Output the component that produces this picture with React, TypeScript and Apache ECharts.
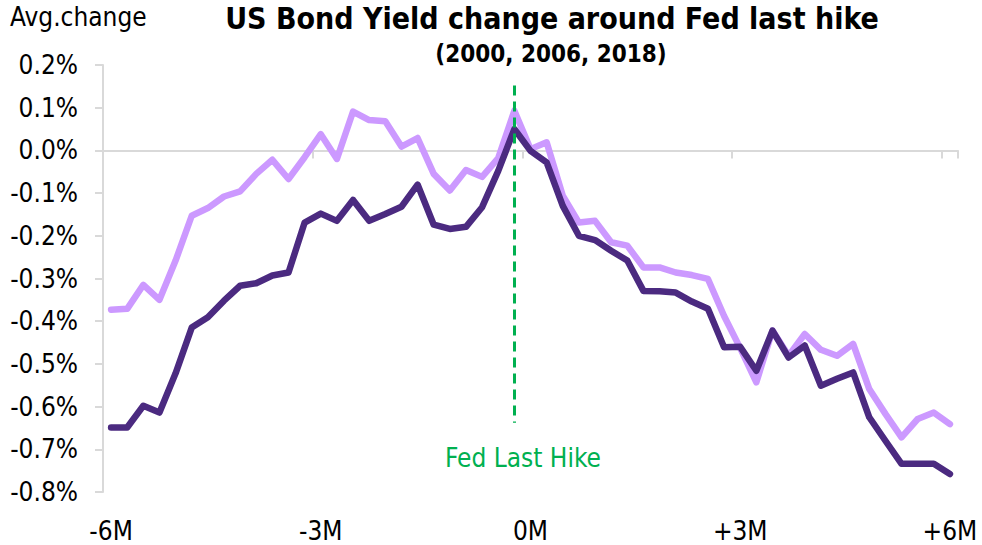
import React, { useEffect, useRef } from "react";
import * as echarts from "echarts";

// Weekly observations around the Fed's last hike (53 weeks, -6M .. +6M)
const monthLabels = ["-6M", "-3M", "0M", "+3M", "+6M"];
const weeksPerLabel = 13;
const hikeIndex = 25;

// Average change in yield, % points
const lightSeries = [
  -0.373, -0.371, -0.315, -0.35, -0.258, -0.153, -0.135, -0.108, -0.096, -0.055,
  -0.022, -0.067, -0.016, 0.038, -0.02, 0.091, 0.071, 0.068, 0.009, 0.029,
  -0.055, -0.094, -0.046, -0.062, -0.018, 0.093, 0.003, 0.019, -0.106, -0.169,
  -0.165, -0.215, -0.223, -0.274, -0.274, -0.286, -0.292, -0.301, -0.388, -0.463,
  -0.543, -0.422, -0.481, -0.43, -0.467, -0.481, -0.453, -0.559, -0.617, -0.672,
  -0.629, -0.614, -0.641,
];
const darkSeries = [
  -0.649, -0.649, -0.598, -0.614, -0.522, -0.415, -0.391, -0.352, -0.317, -0.311,
  -0.293, -0.286, -0.169, -0.148, -0.165, -0.116, -0.165, -0.149, -0.132, -0.08,
  -0.174, -0.184, -0.179, -0.133, -0.048, 0.05, -0.001, -0.028, -0.13, -0.2,
  -0.21, -0.235, -0.258, -0.329, -0.33, -0.333, -0.354, -0.371, -0.461, -0.46,
  -0.516, -0.422, -0.485, -0.457, -0.551, -0.535, -0.52, -0.625, -0.68, -0.734,
  -0.734, -0.734, -0.758,
];
const yMin = -0.8;
const yMax = 0.2;
const yStep = 0.1;
const hikeLineTop = 0.152;
const hikeLineBottom = -0.638;

const categories = lightSeries.map((_, i) =>
  i % weeksPerLabel === 0 ? monthLabels[i / weeksPerLabel] : ""
);

const FONT = "'DejaVu Sans Condensed', 'DejaVu Sans', sans-serif";
const AXIS_GREY = "#d9d9d9";

export default function App() {
  const ref = useRef<HTMLDivElement>(null);
  useEffect(() => {
    if (!ref.current) return;
    const chart = echarts.init(ref.current, undefined, { renderer: "svg" });
    chart.setOption({
      animation: false,
      backgroundColor: "#ffffff",
      textStyle: { fontFamily: FONT },
      grid: { left: 103, right: 24, top: 65, bottom: 53, containLabel: false },
      xAxis: [
        {
          type: "category",
          data: categories,
          position: "bottom",
          axisLine: { show: false, onZero: false },
          axisTick: { show: false },
          splitLine: { show: false },
          axisLabel: {
            interval: weeksPerLabel - 1,
            fontSize: 26,
            color: "#000",
            fontFamily: FONT,
            margin: 26,
          },
        },
        {
          type: "category",
          data: categories,
          position: "bottom",
          axisLine: { show: true, onZero: true, lineStyle: { color: AXIS_GREY, width: 2 } },
          axisTick: {
            show: true,
            interval: weeksPerLabel - 1,
            length: 8,
            lineStyle: { color: AXIS_GREY, width: 2 },
          },
          axisLabel: { show: false },
          splitLine: { show: false },
        },
      ],
      yAxis: {
        type: "value",
        min: yMin,
        max: yMax,
        interval: yStep,
        axisLine: { show: true, onZero: false, lineStyle: { color: AXIS_GREY, width: 2 } },
        axisTick: { show: true, length: 8, lineStyle: { color: AXIS_GREY, width: 2 } },
        splitLine: { show: false },
        axisLabel: {
          fontSize: 26,
          color: "#000",
          fontFamily: FONT,
          margin: 25,
          formatter: (v: number) => v.toFixed(1) + "%",
        },
      },
      series: [
        {
          type: "line",
          data: lightSeries,
          symbol: "none",
          lineStyle: { color: "#cc99ff", width: 6.5, cap: "round", join: "round" },
          silent: true,
        },
        {
          type: "line",
          data: darkSeries,
          symbol: "none",
          lineStyle: { color: "#4b2a80", width: 6.5, cap: "round", join: "round" },
          silent: true,
          markLine: {
            silent: true,
            symbol: "none",
            label: { show: false },
            lineStyle: { color: "#00b050", width: 3, type: [10, 6] },
            data: [[{ coord: [hikeIndex, hikeLineTop] }, { coord: [hikeIndex, hikeLineBottom] }]],
          },
        },
      ],
      graphic: [
        {
          type: "text",
          left: 10,
          top: 4,
          style: { text: "Avg.change", fontSize: 26, fontFamily: FONT, fill: "#000" },
        },
        {
          type: "text",
          x: 552,
          y: 3,
          style: {
            text: "US Bond Yield change around Fed last hike",
            fontSize: 30,
            fontWeight: "bold",
            fontFamily: FONT,
            fill: "#000",
            align: "center",
            verticalAlign: "top",
          },
        },
        {
          type: "text",
          x: 551,
          y: 42,
          style: {
            text: "(2000, 2006, 2018)",
            fontSize: 24,
            fontWeight: "bold",
            fontFamily: FONT,
            fill: "#000",
            align: "center",
            verticalAlign: "top",
          },
        },
        {
          type: "text",
          x: 523,
          y: 445,
          style: {
            text: "Fed Last Hike",
            fontSize: 26,
            fontFamily: FONT,
            fill: "#00b050",
            align: "center",
            verticalAlign: "top",
          },
        },
      ],
    });
    return () => chart.dispose();
  }, []);
  return (
    <div
      ref={ref}
      style={{ position: "absolute", left: 0, top: 0, width: 982, height: 545 }}
    />
  );
}
